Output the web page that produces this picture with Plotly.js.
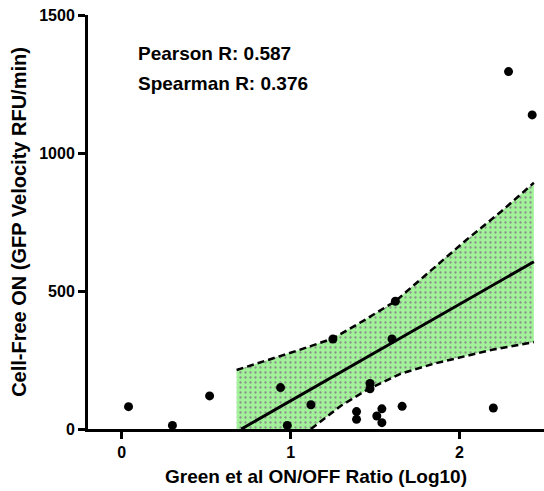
<!DOCTYPE html>
<html>
<head>
<meta charset="utf-8">
<script src="https://cdn.plot.ly/plotly-3.0.1.min.js"></script>
<style>html,body{margin:0;padding:0;background:#fff;}#chart{width:544px;height:491px;}</style>
</head>
<body>
<div id="chart"></div>
<script>
// Scatter data (x: Green et al ON/OFF ratio, log10; y: cell-free ON, GFP velocity RFU/min)
const ratioLog10 = [0.04, 0.30, 0.52, 0.94, 0.98, 1.12, 1.25, 1.39, 1.39, 1.47, 1.47, 1.51, 1.54, 1.54, 1.60, 1.62, 1.66, 2.20, 2.29, 2.43];
const cellFreeOn = [81, 13, 120, 150, 13, 88, 326, 63, 35, 165, 146, 47, 73, 23, 326, 463, 82, 76, 1295, 1138];

// Linear fit line
const fitX = [0.708, 2.44];
const fitY = [0, 606];

// 95% confidence band
const upperX = [0.68, 0.85, 1.05, 1.25, 1.43, 1.62, 1.88, 2.04, 2.25, 2.44];
const upperY = [214, 247, 286, 328, 392, 463, 602, 685, 790, 892];
const lowerX = [1.12, 1.30, 1.45, 1.65, 1.85, 2.00, 2.20, 2.44];
const lowerY = [0, 85, 141, 200, 237, 260, 288, 315];
const bandBaseX = [0.68];
const bandBaseY = [0];

const statLabels = ['Pearson R: 0.587', 'Spearman R: 0.376'];
const xTickVals = [0, 1, 2];
const yTickVals = [0, 500, 1000, 1500];

const FONT = 'Liberation Sans, Arial, Helvetica, sans-serif';

const bandX = upperX.concat(lowerX.slice().reverse(), bandBaseX);
const bandY = upperY.concat(lowerY.slice().reverse(), bandBaseY);

const traces = [
  {
    x: bandX, y: bandY, type: 'scatter', mode: 'none',
    fill: 'toself', fillcolor: '#a2f29a',
    fillpattern: {shape: '.', bgcolor: '#a2f29a', fgcolor: '#8c8c8c', size: 5, solidity: 0.17},
    hoverinfo: 'skip', showlegend: false
  },
  {
    x: upperX, y: upperY, type: 'scatter', mode: 'lines',
    line: {color: '#000', width: 2.5, dash: '7px,4px'}, showlegend: false
  },
  {
    x: lowerX, y: lowerY, type: 'scatter', mode: 'lines',
    line: {color: '#000', width: 2.5, dash: '7px,4px'}, showlegend: false
  },
  {
    x: fitX, y: fitY, type: 'scatter', mode: 'lines',
    line: {color: '#000', width: 3}, showlegend: false
  },
  {
    x: ratioLog10, y: cellFreeOn, type: 'scatter', mode: 'markers',
    marker: {color: '#000', size: 9}, cliponaxis: false, showlegend: false
  }
];

const axisCommon = {
  showgrid: false, zeroline: false, showline: true, linecolor: '#000', linewidth: 3,
  ticks: 'outside', ticklen: 7, tickwidth: 3, tickcolor: '#000',
  tickfont: {family: FONT, size: 16, color: '#000', weight: 'bold'}
};

const layout = {
  width: 544, height: 491,
  margin: {l: 88, r: 0, t: 15, b: 62, pad: 0},
  paper_bgcolor: '#fff', plot_bgcolor: '#fff',
  showlegend: false,
  xaxis: Object.assign({}, axisCommon, {
    range: [-0.2, 2.5], tickvals: xTickVals, ticktext: xTickVals.map(String),
    title: {text: 'Green et al ON/OFF Ratio (Log10)', font: {family: FONT, size: 19, color: '#000', weight: 'bold'}, standoff: 10}
  }),
  yaxis: Object.assign({}, axisCommon, {
    range: [0, 1500], tickvals: yTickVals, ticktext: yTickVals.map(String),
    title: {text: 'Cell-Free ON (GFP Velocity RFU/min)', font: {family: FONT, size: 20, color: '#000', weight: 'bold'}, standoff: 8}
  }),
  annotations: [
    {x: 0.087, y: 1362, xref: 'x', yref: 'y', text: statLabels[0], showarrow: false, xanchor: 'left', yanchor: 'middle',
     font: {family: FONT, size: 19, color: '#000', weight: 'bold'}},
    {x: 0.087, y: 1252, xref: 'x', yref: 'y', text: statLabels[1], showarrow: false, xanchor: 'left', yanchor: 'middle',
     font: {family: FONT, size: 19, color: '#000', weight: 'bold'}}
  ]
};

Plotly.newPlot('chart', traces, layout, {staticPlot: true, displayModeBar: false});
</script>
</body>
</html>
